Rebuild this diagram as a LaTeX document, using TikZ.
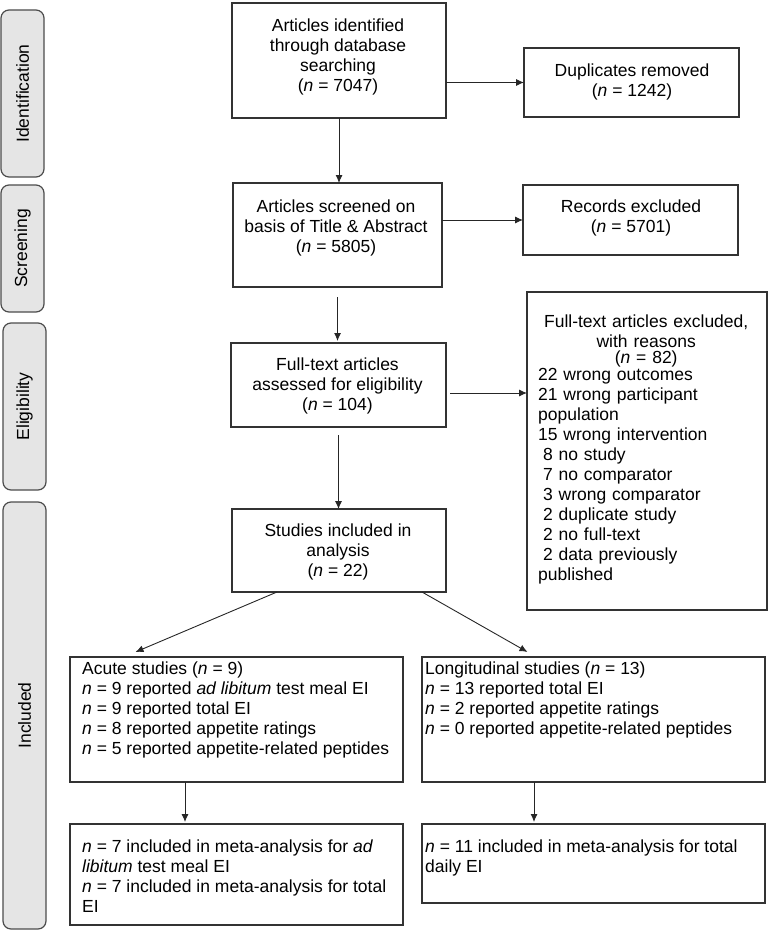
\documentclass[tikz,border=0pt]{standalone}
\usepackage{fontspec}
\setmainfont{Liberation Sans}
\usetikzlibrary{arrows.meta}
\begin{document}
\begin{tikzpicture}[x=1pt,y=-1pt,
  font=\fontsize{17.5}{20}\selectfont,
  box/.style={draw=black!80, line width=1.2pt, inner sep=0pt, outer sep=0pt},
  side/.style={draw=black!70, fill=black!10, rounded corners=8pt, line width=1.2pt, inner sep=0pt},
  arr/.style={draw=black!85, line width=0.9pt, -{Latex[length=8pt,width=7pt]}},
  ctxt/.style={inner sep=0pt, align=center},
  ltxt/.style={inner sep=0pt, align=left, anchor=north west}]
\useasboundingbox (0,0) rectangle (777,931);
% side labels
\node[side, rotate=90, minimum width=167pt, minimum height=43pt] (sid) at (22.5,93.5) {Identification};
\node[side, rotate=90, minimum width=127pt, minimum height=43pt] (sscr) at (22.5,248.5) {Screening};
\node[side, rotate=90, minimum width=167pt, minimum height=43pt] (seli) at (24.5,406.5) {Eligibility};
\node[side, rotate=90, minimum width=427pt, minimum height=43pt] (sinc) at (24.5,715.5) {Included};
% boxes
\node[box, minimum width=214pt, minimum height=115pt] (b1) at (339,60.5) {};
\node[box, minimum width=215pt, minimum height=69pt] (dup) at (631.5,82.5) {};
\node[box, minimum width=209pt, minimum height=104pt] (b2) at (337.5,235) {};
\node[box, minimum width=215pt, minimum height=70pt] (rec) at (630.5,220) {};
\node[box, minimum width=215pt, minimum height=84pt] (ft) at (338.5,385) {};
\node[box, minimum width=240pt, minimum height=318pt] (exc) at (647,451) {};
\node[box, minimum width=214pt, minimum height=83pt] (inc) at (339,550.5) {};
\node[box, minimum width=333pt, minimum height=125pt] (acu) at (236.5,719.5) {};
\node[box, minimum width=343pt, minimum height=125pt] (lon) at (593.5,719.5) {};
\node[box, minimum width=333pt, minimum height=101pt] (ma) at (236.5,874.5) {};
\node[box, minimum width=343pt, minimum height=79pt] (ml) at (593.5,863.5) {};
% texts
\node[ctxt] (t1) at (338,57) {Articles identified\\through database\\searching\\(\textit{n} = 7047)};
\node[ctxt] (tdup) at (632,81.5) {Duplicates removed\\(\textit{n} = 1242)};
\node[ctxt] (t2) at (336,228) {Articles screened on\\basis of Title \& Abstract\\(\textit{n} = 5805)};
\node[ctxt] (trec) at (631,218) {Records excluded\\(\textit{n} = 5701)};
\node[ctxt] (tft) at (337.5,385.5) {Full-text articles\\assessed for eligibility\\(\textit{n} = 104)};
\node[ctxt] (tinc) at (338,551.5) {Studies included in\\analysis\\(\textit{n} = 22)};
\node[ltxt, text width=216pt] (texc) at (538,315) {{\centering Full-text articles excluded,\\with reasons\\[-4pt](\textit{n} = 82)\par}\vspace{-3pt}
22 wrong outcomes\\
21 wrong participant\\
population\\
15 wrong intervention\\
\hspace*{0.278em}8 no study\\
\hspace*{0.278em}7 no comparator\\
\hspace*{0.278em}3 wrong comparator\\
\hspace*{0.278em}2 duplicate study\\
\hspace*{0.278em}2 no full-text\\
\hspace*{0.278em}2 data previously\\
published};
\node[ltxt] (tacu) at (82,662) {Acute studies (\textit{n} = 9)\\
\textit{n} = 9 reported \textit{ad libitum} test meal EI\\
\textit{n} = 9 reported total EI\\
\textit{n} = 8 reported appetite ratings\\
\textit{n} = 5 reported appetite-related peptides};
\node[ltxt] (tlon) at (425,662) {Longitudinal studies (\textit{n} = 13)\\
\textit{n} = 13 reported total EI\\
\textit{n} = 2 reported appetite ratings\\
\textit{n} = 0 reported appetite-related peptides};
\node[ltxt] (tma) at (82,840) {\textit{n} = 7 included in meta-analysis for \textit{ad}\\
\textit{libitum} test meal EI\\
\textit{n} = 7 included in meta-analysis for total\\
EI};
\node[ltxt] (tml) at (425,840) {\textit{n} = 11 included in meta-analysis for total\\
daily EI};
% arrows
\draw[arr] (b1.south) -- (b1.south |- b2.north);
\draw[arr, shorten <=10pt, shorten >=2pt] (b2.south) -- (b2.south |- ft.north);
\draw[arr, shorten <=8pt] (ft.south) -- (ft.south |- inc.north);
\draw[arr] (b1.east |- dup.west) -- (dup.west);
\draw[arr] (b2.east |- rec.west) -- (rec.west);
\draw[arr, shorten <=4pt] ([yshift=-8pt]ft.east) -- ([yshift=-8pt]ft.east -| exc.west);
\draw[arr] ([xshift=-62pt]inc.south) -- ([xshift=-101pt,yshift=5pt]acu.north);
\draw[arr] ([xshift=83pt]inc.south) -- ([xshift=-66pt,yshift=5pt]lon.north);
\draw[arr, shorten >=2pt] ([xshift=-51.5pt]acu.south) -- ([xshift=-51.5pt]ma.north);
\draw[arr, shorten >=2pt] ([xshift=-59.5pt]lon.south) -- ([xshift=-59.5pt]ml.north);
\end{tikzpicture}
\end{document}
